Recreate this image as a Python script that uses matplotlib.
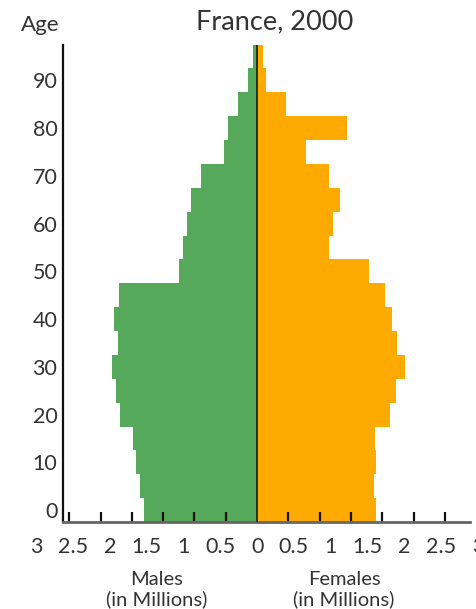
import matplotlib
matplotlib.use("Agg")
import matplotlib.pyplot as plt
import matplotlib.transforms as mtransforms

plt.rcParams['font.family'] = ['Lato', 'DejaVu Sans']

# Five-year age groups (lower bound of each group)
age_groups = [0, 5, 10, 15, 20, 25, 30, 35, 40, 45,
              50, 55, 60, 65, 70, 75, 80, 85, 90, 95]
# Population in millions per age group
males = [1.80, 1.87, 1.93, 1.98, 2.19, 2.26, 2.31, 2.22, 2.28, 2.20,
         1.25, 1.18, 1.12, 1.06, 0.90, 0.53, 0.46, 0.30, 0.14, 0.06]
females = [1.90, 1.86, 1.90, 1.88, 2.12, 2.22, 2.36, 2.23, 2.15, 2.04,
           1.78, 1.15, 1.22, 1.33, 1.15, 0.78, 1.44, 0.46, 0.14, 0.09]

age_tick_labels = ['0', '10', '20', '30', '40', '50', '60', '70', '80', '90']
x_tick_values = [0.5, 1, 1.5, 2, 2.5, 3]
x_tick_texts = ['0.5', '1', '1.5', '2', '2.5', '3']

title = 'France, 2000'
male_label = 'Males\n(in Millions)'
female_label = 'Females\n(in Millions)'

GREEN = '#56a85a'
ORANGE = '#ffaa00'
TEXT = '#333333'
GROUP = 5
LABEL_STRETCH = 1.176  # spacing of printed scale numbers vs. tick marks

fig = plt.figure(figsize=(4.77, 6.09), dpi=100)
ax = fig.add_axes([63 / 477, 1 - 522 / 609, (470 - 63) / 477, (522 - 44.6) / 609])

ax.barh(age_groups, [-m for m in males], height=GROUP, align='edge',
        color=GREEN, edgecolor='none')
ax.barh(age_groups, females, height=GROUP, align='edge',
        color=ORANGE, edgecolor='none')
ax.axvline(0, color='#1c2a1c', lw=1.3, zorder=3)

ax.set_xlim(-3.10, 3.40)
ax.set_ylim(0, 100)

# Spines
for s in ('top', 'right'):
    ax.spines[s].set_visible(False)
ax.spines['left'].set_color('#111111')
ax.spines['left'].set_linewidth(1.6)
ax.spines['bottom'].set_color('#666666')
ax.spines['bottom'].set_linewidth(2.0)

# Age ticks: labels centred on the decade's first group
ax.set_yticks([a + GROUP / 2 for a in age_groups[::2]])
ax.set_yticklabels(age_tick_labels, fontsize=15.5, color=TEXT)
ax.tick_params(axis='y', length=0, pad=4)

# Tick marks on the population axis (both sides of zero)
tick_pos = [-v for v in x_tick_values[::-1]] + x_tick_values
ax.set_xticks(tick_pos)
ax.set_xticklabels([])
ax.tick_params(axis='x', direction='in', length=7, width=1.6, color='#111111')

# Printed scale numbers
trans = mtransforms.blended_transform_factory(ax.transData, ax.transAxes)
label_vals = [-v for v in x_tick_values[::-1]] + [0] + x_tick_values
label_txt = x_tick_texts[::-1] + ['0'] + x_tick_texts
for v, t in zip(label_vals, label_txt):
    ax.text(v * LABEL_STRETCH, -0.052, t, transform=trans, ha='center',
            va='center', fontsize=15.5, color=TEXT, clip_on=False)

fig.text(275 / 477, 1 - 22 / 609, title, ha='center', va='center',
         fontsize=19.5, color=TEXT)
fig.text(40 / 477, 1 - 25 / 609, 'Age', ha='center', va='center',
         fontsize=16, color=TEXT)
fig.text(157 / 477, 1 - 590 / 609, male_label, ha='center', va='center',
         fontsize=14.5, color=TEXT, linespacing=1.15)
fig.text(344 / 477, 1 - 590 / 609, female_label, ha='center', va='center',
         fontsize=14.5, color=TEXT, linespacing=1.15)

fig.savefig('out.png', dpi=100)
